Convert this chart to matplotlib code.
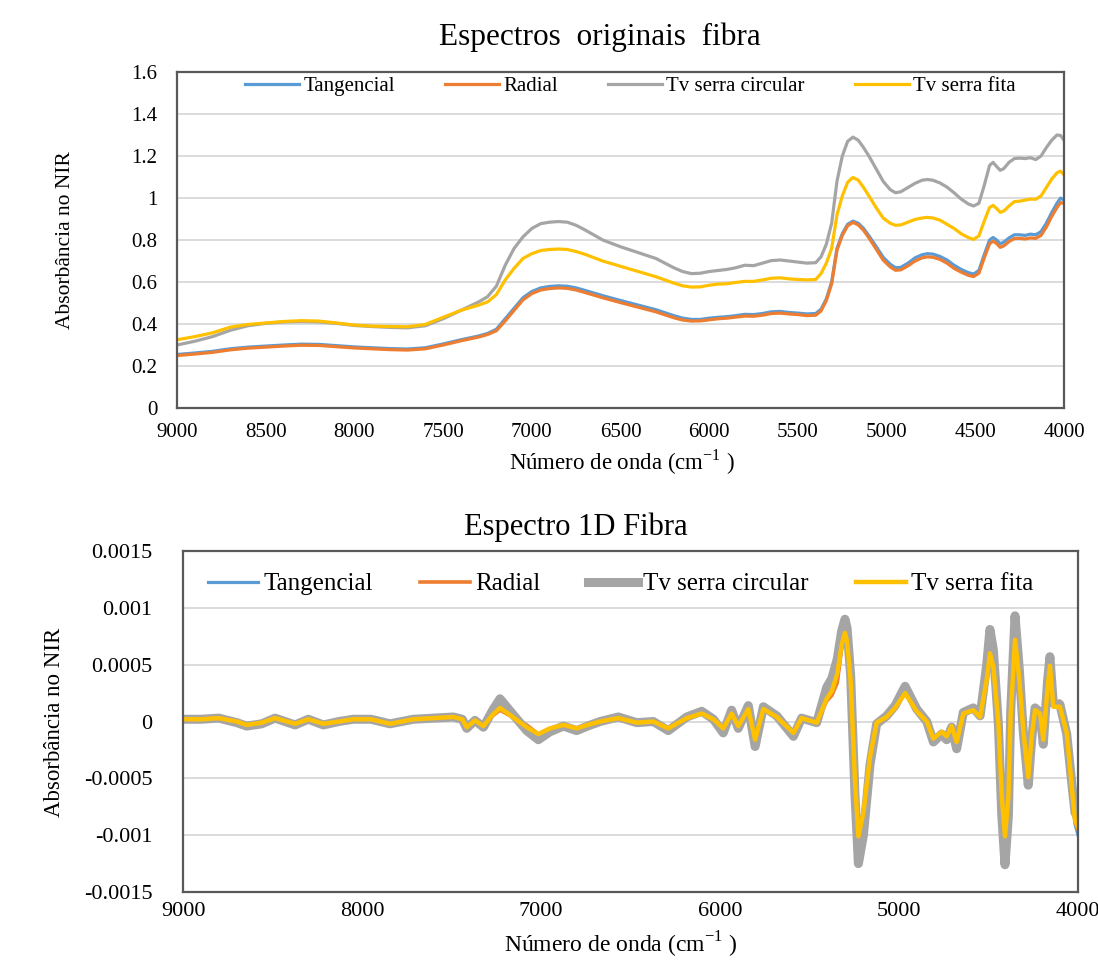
import numpy as np
import matplotlib
matplotlib.use('Agg')
import matplotlib.pyplot as plt
from matplotlib.ticker import FuncFormatter

plt.rcParams['font.family'] = ['Liberation Serif', 'DejaVu Serif']
plt.rcParams['mathtext.fontset'] = 'custom'
plt.rcParams['mathtext.rm'] = 'Liberation Serif'

# cores padrão do Excel
c_tang = '#5B9BD5'
c_rad = '#ED7D31'
c_circ = '#A5A5A5'
c_fita = '#FFC000'
nomes = ['Tangencial', 'Radial', 'Tv serra circular', 'Tv serra fita']

# ---- espectros originais (absorbância) ----
wn_orig = [9000, 8900, 8800, 8700, 8600, 8500, 8400, 8300, 8200, 8100,
           8000, 7900, 7800, 7700, 7600, 7500, 7400, 7300, 7250, 7200,
           7150, 7100, 7050, 7000, 6950, 6900, 6850, 6800, 6750, 6700,
           6600, 6500, 6400, 6300, 6200, 6150, 6100, 6050, 6000, 5950,
           5900, 5850, 5800, 5750, 5700, 5650, 5600, 5550, 5500, 5450,
           5400, 5370, 5340, 5310, 5280, 5250, 5220, 5190, 5160, 5130,
           5100, 5060, 5020, 4980, 4950, 4920, 4880, 4840, 4800, 4770,
           4740, 4700, 4660, 4620, 4580, 4540, 4510, 4480, 4450, 4420,
           4400, 4380, 4360, 4340, 4310, 4280, 4250, 4220, 4190, 4160,
           4130, 4100, 4070, 4040, 4020, 4000]

abs_tang = [0.255, 0.262, 0.270, 0.282, 0.290, 0.295, 0.300, 0.304, 0.303, 0.297,
            0.291, 0.287, 0.283, 0.281, 0.287, 0.305, 0.325, 0.343, 0.355, 0.375,
            0.425, 0.475, 0.525, 0.555, 0.572, 0.579, 0.582, 0.580, 0.572, 0.560,
            0.535, 0.512, 0.490, 0.468, 0.440, 0.428, 0.422, 0.422, 0.428, 0.432,
            0.435, 0.440, 0.446, 0.445, 0.450, 0.458, 0.460, 0.455, 0.452, 0.448,
            0.450, 0.470, 0.520, 0.600, 0.760, 0.830, 0.875, 0.890, 0.880, 0.855,
            0.820, 0.770, 0.718, 0.685, 0.668, 0.670, 0.690, 0.715, 0.730, 0.735,
            0.733, 0.722, 0.705, 0.680, 0.660, 0.645, 0.638, 0.655, 0.730, 0.800,
            0.812, 0.800, 0.782, 0.790, 0.810, 0.825, 0.825, 0.822, 0.828, 0.825,
            0.840, 0.880, 0.930, 0.975, 1.000, 0.990]

abs_rad = [0.250, 0.257, 0.265, 0.277, 0.285, 0.290, 0.295, 0.299, 0.298, 0.292,
           0.286, 0.282, 0.278, 0.276, 0.282, 0.300, 0.320, 0.338, 0.350, 0.368,
           0.415, 0.465, 0.515, 0.545, 0.562, 0.569, 0.572, 0.570, 0.562, 0.550,
           0.525, 0.502, 0.480, 0.458, 0.430, 0.419, 0.414, 0.415, 0.420, 0.425,
           0.428, 0.433, 0.438, 0.437, 0.442, 0.450, 0.452, 0.448, 0.445, 0.440,
           0.442, 0.462, 0.512, 0.592, 0.752, 0.822, 0.868, 0.884, 0.872, 0.846,
           0.810, 0.758, 0.705, 0.672, 0.656, 0.658, 0.677, 0.700, 0.715, 0.720,
           0.718, 0.708, 0.690, 0.665, 0.647, 0.632, 0.626, 0.642, 0.715, 0.782,
           0.795, 0.783, 0.765, 0.772, 0.793, 0.807, 0.808, 0.805, 0.810, 0.808,
           0.822, 0.862, 0.912, 0.955, 0.978, 0.975]

abs_circ = [0.300, 0.318, 0.340, 0.370, 0.392, 0.403, 0.410, 0.412, 0.410, 0.403,
            0.393, 0.388, 0.384, 0.382, 0.392, 0.425, 0.465, 0.505, 0.530, 0.580,
            0.680, 0.760, 0.815, 0.855, 0.878, 0.885, 0.888, 0.885, 0.870, 0.848,
            0.800, 0.768, 0.740, 0.712, 0.668, 0.650, 0.640, 0.642, 0.650, 0.655,
            0.660, 0.668, 0.680, 0.678, 0.690, 0.702, 0.705, 0.700, 0.695, 0.690,
            0.692, 0.720, 0.780, 0.880, 1.080, 1.200, 1.270, 1.290, 1.275, 1.240,
            1.200, 1.140, 1.080, 1.040, 1.025, 1.030, 1.050, 1.070, 1.085, 1.088,
            1.085, 1.072, 1.052, 1.025, 0.995, 0.972, 0.962, 0.975, 1.060, 1.155,
            1.170, 1.150, 1.132, 1.140, 1.170, 1.188, 1.190, 1.188, 1.192, 1.183,
            1.200, 1.240, 1.275, 1.300, 1.298, 1.275]

abs_fita = [0.325, 0.340, 0.358, 0.385, 0.398, 0.405, 0.412, 0.416, 0.414, 0.405,
            0.395, 0.390, 0.388, 0.387, 0.398, 0.432, 0.465, 0.490, 0.505, 0.540,
            0.610, 0.665, 0.712, 0.735, 0.750, 0.755, 0.757, 0.755, 0.745, 0.732,
            0.700, 0.675, 0.650, 0.625, 0.595, 0.582, 0.576, 0.577, 0.585, 0.590,
            0.592, 0.598, 0.603, 0.603, 0.610, 0.618, 0.620, 0.615, 0.612, 0.610,
            0.612, 0.640, 0.690, 0.760, 0.920, 1.010, 1.075, 1.098, 1.085, 1.050,
            1.010, 0.955, 0.905, 0.880, 0.870, 0.872, 0.885, 0.898, 0.905, 0.908,
            0.905, 0.895, 0.875, 0.855, 0.830, 0.812, 0.803, 0.820, 0.890, 0.955,
            0.965, 0.950, 0.932, 0.938, 0.962, 0.983, 0.985, 0.990, 0.995, 0.994,
            1.010, 1.050, 1.090, 1.120, 1.128, 1.110]

# ---- espectro 1ª derivada (valores em 1e-4) ----
wn_1d = [9000, 8900, 8800, 8700, 8644, 8560, 8486, 8374, 8300, 8216,
         8130, 8049, 7950, 7844, 7713, 7600, 7490, 7440, 7415, 7369,
         7322, 7270, 7229, 7150, 7080, 7015, 6950, 6875, 6801, 6740,
         6670, 6568, 6465, 6373, 6289, 6186, 6102, 6037, 5982, 5935,
         5898, 5842, 5804, 5758, 5683, 5590, 5544, 5460, 5404, 5375,
         5345, 5320, 5302, 5290, 5270, 5246, 5227, 5199, 5162, 5125,
         5069, 5022, 4966, 4901, 4845, 4808, 4762, 4734, 4706, 4678,
         4641, 4585, 4547, 4510, 4492, 4473, 4445, 4426, 4408, 4389,
         4376, 4352, 4328, 4306, 4278, 4259, 4240, 4212, 4194, 4171,
         4157, 4138, 4101, 4063, 4035, 4017, 4000]

d1_fita = [0.2, 0.2, 0.3, 0.0, -0.3, -0.1, 0.3, -0.2, 0.2, -0.2,
           0.0, 0.2, 0.2, -0.2, 0.2, 0.3, 0.4, 0.2, -0.5, 0.1,
           -0.4, 0.6, 1.2, 0.3, -0.5, -1.1, -0.6, -0.3, -0.6, -0.3,
           0.0, 0.3, -0.1, 0.0, -0.6, 0.3, 0.7, 0.2, -0.6, 0.7,
           -0.4, 1.1, -1.6, 1.1, 0.4, -1.0, 0.3, -0.1, 2.0, 2.7,
           4.2, 6.8, 7.8, 7.0, 3.5, -5.2, -10.1, -8.0, -3.1, -0.1,
           0.4, 1.2, 2.5, 0.9, 0.0, -1.5, -0.9, -1.3, -0.4, -1.8,
           0.7, 1.0, 0.4, 3.7, 6.0, 4.8, -0.1, -6.6, -10.1, -6.6,
           0.7, 7.2, 3.7, -0.7, -4.9, -1.3, 1.0, 0.7, -1.6, 2.8,
           4.9, 1.3, 1.3, -1.0, -5.7, -8.7, -9.3]

d1_circ = [0.2, 0.2, 0.3, -0.1, -0.4, -0.2, 0.3, -0.3, 0.2, -0.3,
           0.0, 0.2, 0.2, -0.2, 0.2, 0.3, 0.4, 0.2, -0.6, 0.1,
           -0.5, 1.0, 2.0, 0.5, -0.8, -1.6, -0.9, -0.4, -0.8, -0.4,
           0.0, 0.4, -0.1, 0.0, -0.8, 0.4, 0.9, 0.2, -1.0, 1.0,
           -0.6, 1.4, -2.2, 1.3, 0.5, -1.3, 0.3, -0.1, 3.0, 3.8,
           5.5, 8.0, 9.0, 8.2, 4.0, -6.5, -12.5, -10.0, -3.8, -0.2,
           0.5, 1.4, 3.1, 1.1, 0.0, -1.8, -1.1, -1.6, -0.5, -2.4,
           0.8, 1.2, 0.5, 5.0, 8.1, 6.3, -0.2, -8.2, -12.6, -8.3,
           0.9, 9.3, 4.6, -0.9, -5.6, -1.6, 1.2, 0.8, -2.0, 3.4,
           5.7, 1.6, 1.5, -1.1, -5.4, -8.0, -8.5]

d1_tang = [0.2, 0.2, 0.3, 0.0, -0.3, -0.1, 0.3, -0.2, 0.2, -0.2,
           0.0, 0.2, 0.2, -0.2, 0.2, 0.3, 0.4, 0.2, -0.5, 0.1,
           -0.4, 0.6, 1.1, 0.3, -0.5, -1.1, -0.6, -0.3, -0.6, -0.3,
           0.0, 0.3, -0.1, 0.0, -0.6, 0.3, 0.7, 0.2, -0.6, 0.7,
           -0.4, 1.1, -1.6, 1.1, 0.4, -1.0, 0.3, -0.1, 1.9, 2.5,
           3.6, 6.6, 7.6, 6.9, 3.4, -5.1, -9.9, -7.9, -3.1, -0.1,
           0.4, 1.2, 2.5, 0.9, 0.0, -1.5, -0.9, -1.3, -0.4, -1.8,
           0.7, 1.0, 0.4, 3.6, 5.8, 4.7, -0.1, -6.5, -9.9, -6.5,
           0.7, 7.0, 3.6, -0.7, -4.8, -1.3, 1.0, 0.7, -1.6, 2.8,
           4.8, 1.4, 1.5, -1.0, -5.8, -9.0, -10.0]

d1_rad = [0.2, 0.2, 0.3, 0.0, -0.3, -0.1, 0.3, -0.2, 0.2, -0.2,
          0.0, 0.2, 0.2, -0.2, 0.2, 0.3, 0.4, 0.2, -0.5, 0.1,
          -0.4, 0.5, 1.0, 0.3, -0.3, -1.1, -0.6, -0.3, -0.6, -0.3,
          0.0, 0.3, -0.1, 0.0, -0.6, 0.3, 0.7, 0.2, -0.6, 0.7,
          -0.4, 1.1, -1.6, 1.1, 0.4, -1.0, 0.3, -0.1, 1.8, 2.3,
          3.4, 6.5, 7.5, 6.9, 3.4, -5.0, -9.8, -7.9, -3.1, -0.1,
          0.4, 1.2, 2.5, 0.9, 0.0, -1.5, -0.9, -1.3, -0.4, -1.8,
          0.7, 1.0, 0.4, 3.6, 5.8, 4.7, -0.1, -6.5, -9.8, -6.5,
          0.7, 6.9, 3.6, -0.7, -4.8, -1.3, 1.0, 0.7, -1.6, 2.8,
          4.7, 1.5, 1.8, -1.0, -5.7, -8.8, -9.5]

yt_orig = [0, 0.2, 0.4, 0.6, 0.8, 1.0, 1.2, 1.4, 1.6]
yt_1d = [-0.0015, -0.001, -0.0005, 0, 0.0005, 0.001, 0.0015]
xt_orig = [9000, 8500, 8000, 7500, 7000, 6500, 6000, 5500, 5000, 4500, 4000]
xt_1d = [9000, 8000, 7000, 6000, 5000, 4000]

fig = plt.figure(figsize=(10.98, 9.63), dpi=100)
fmt = FuncFormatter(lambda v, p: '%g' % round(v, 6))


def estilo(ax, yt, xt, tsize, xpad, ypad):
    ax.set_xlim(9000, 4000)
    ax.set_yticks(yt)
    ax.set_ylim(yt[0], yt[-1])
    ax.set_xticks(xt)
    ax.yaxis.set_major_formatter(fmt)
    ax.grid(axis='y', color='#D9D9D9', linewidth=1.3)
    ax.set_axisbelow(True)
    for s in ax.spines.values():
        s.set_color('#595959')
        s.set_linewidth(1.6)
    ax.tick_params(axis='both', length=0, labelsize=tsize, colors='black')
    ax.tick_params(axis='x', pad=xpad)
    ax.tick_params(axis='y', pad=ypad)


# gráfico de cima
ax1 = fig.add_axes([0.1612, 0.5763, 0.8079, 0.3489])
ax1.plot(wn_orig, abs_tang, color=c_tang, lw=2.3, label=nomes[0])
ax1.plot(wn_orig, abs_rad, color=c_rad, lw=2.3, label=nomes[1])
ax1.plot(wn_orig, abs_circ, color=c_circ, lw=2.3, label=nomes[2])
ax1.plot(wn_orig, abs_fita, color=c_fita, lw=2.3, label=nomes[3])
estilo(ax1, yt_orig, xt_orig, 15, 11, 14)
ax1.legend(loc='center', bbox_to_anchor=(0.511, 0.958), ncol=4, frameon=False,
           fontsize=15, handlelength=2.6, handletextpad=0.2, columnspacing=2.4)

# gráfico de baixo
ax2 = fig.add_axes([0.1667, 0.0737, 0.8151, 0.3541])
esc = 1e-4
ax2.plot(wn_1d, np.array(d1_tang) * esc, color=c_tang, lw=2.3, label=nomes[0])
ax2.plot(wn_1d, np.array(d1_rad) * esc, color=c_rad, lw=2.6, label=nomes[1])
ax2.plot(wn_1d, np.array(d1_circ) * esc, color=c_circ, lw=6.5, label=nomes[2])
ax2.plot(wn_1d, np.array(d1_fita) * esc, color=c_fita, lw=3.2, label=nomes[3])
estilo(ax2, yt_1d, xt_1d, 16, 7, 22)
ax2.legend(loc='center', bbox_to_anchor=(0.489, 0.903), ncol=4, frameon=False,
           fontsize=18, handlelength=2.0, handletextpad=0.2, columnspacing=1.9)

# textos
fig.text(0.546, 0.9616, 'Espectros  originais  fibra', ha='center', va='center', fontsize=22.5)
fig.text(0.524, 0.4528, 'Espectro 1D Fibra', ha='center', va='center', fontsize=22)
fig.text(0.5665, 0.5202, r'Número de onda (cm$^{-1}$ )', ha='center', va='center', fontsize=16.5)
fig.text(0.565, 0.0187, r'Número de onda (cm$^{-1}$ )', ha='center', va='center', fontsize=17)
fig.text(0.0592, 0.7508, 'Absorbância no NIR', ha='center', va='center', rotation=90, fontsize=15.5)
fig.text(0.050, 0.2503, 'Absorbância no NIR', ha='center', va='center', rotation=90, fontsize=16.5)

fig.savefig('out.png', dpi=100)
